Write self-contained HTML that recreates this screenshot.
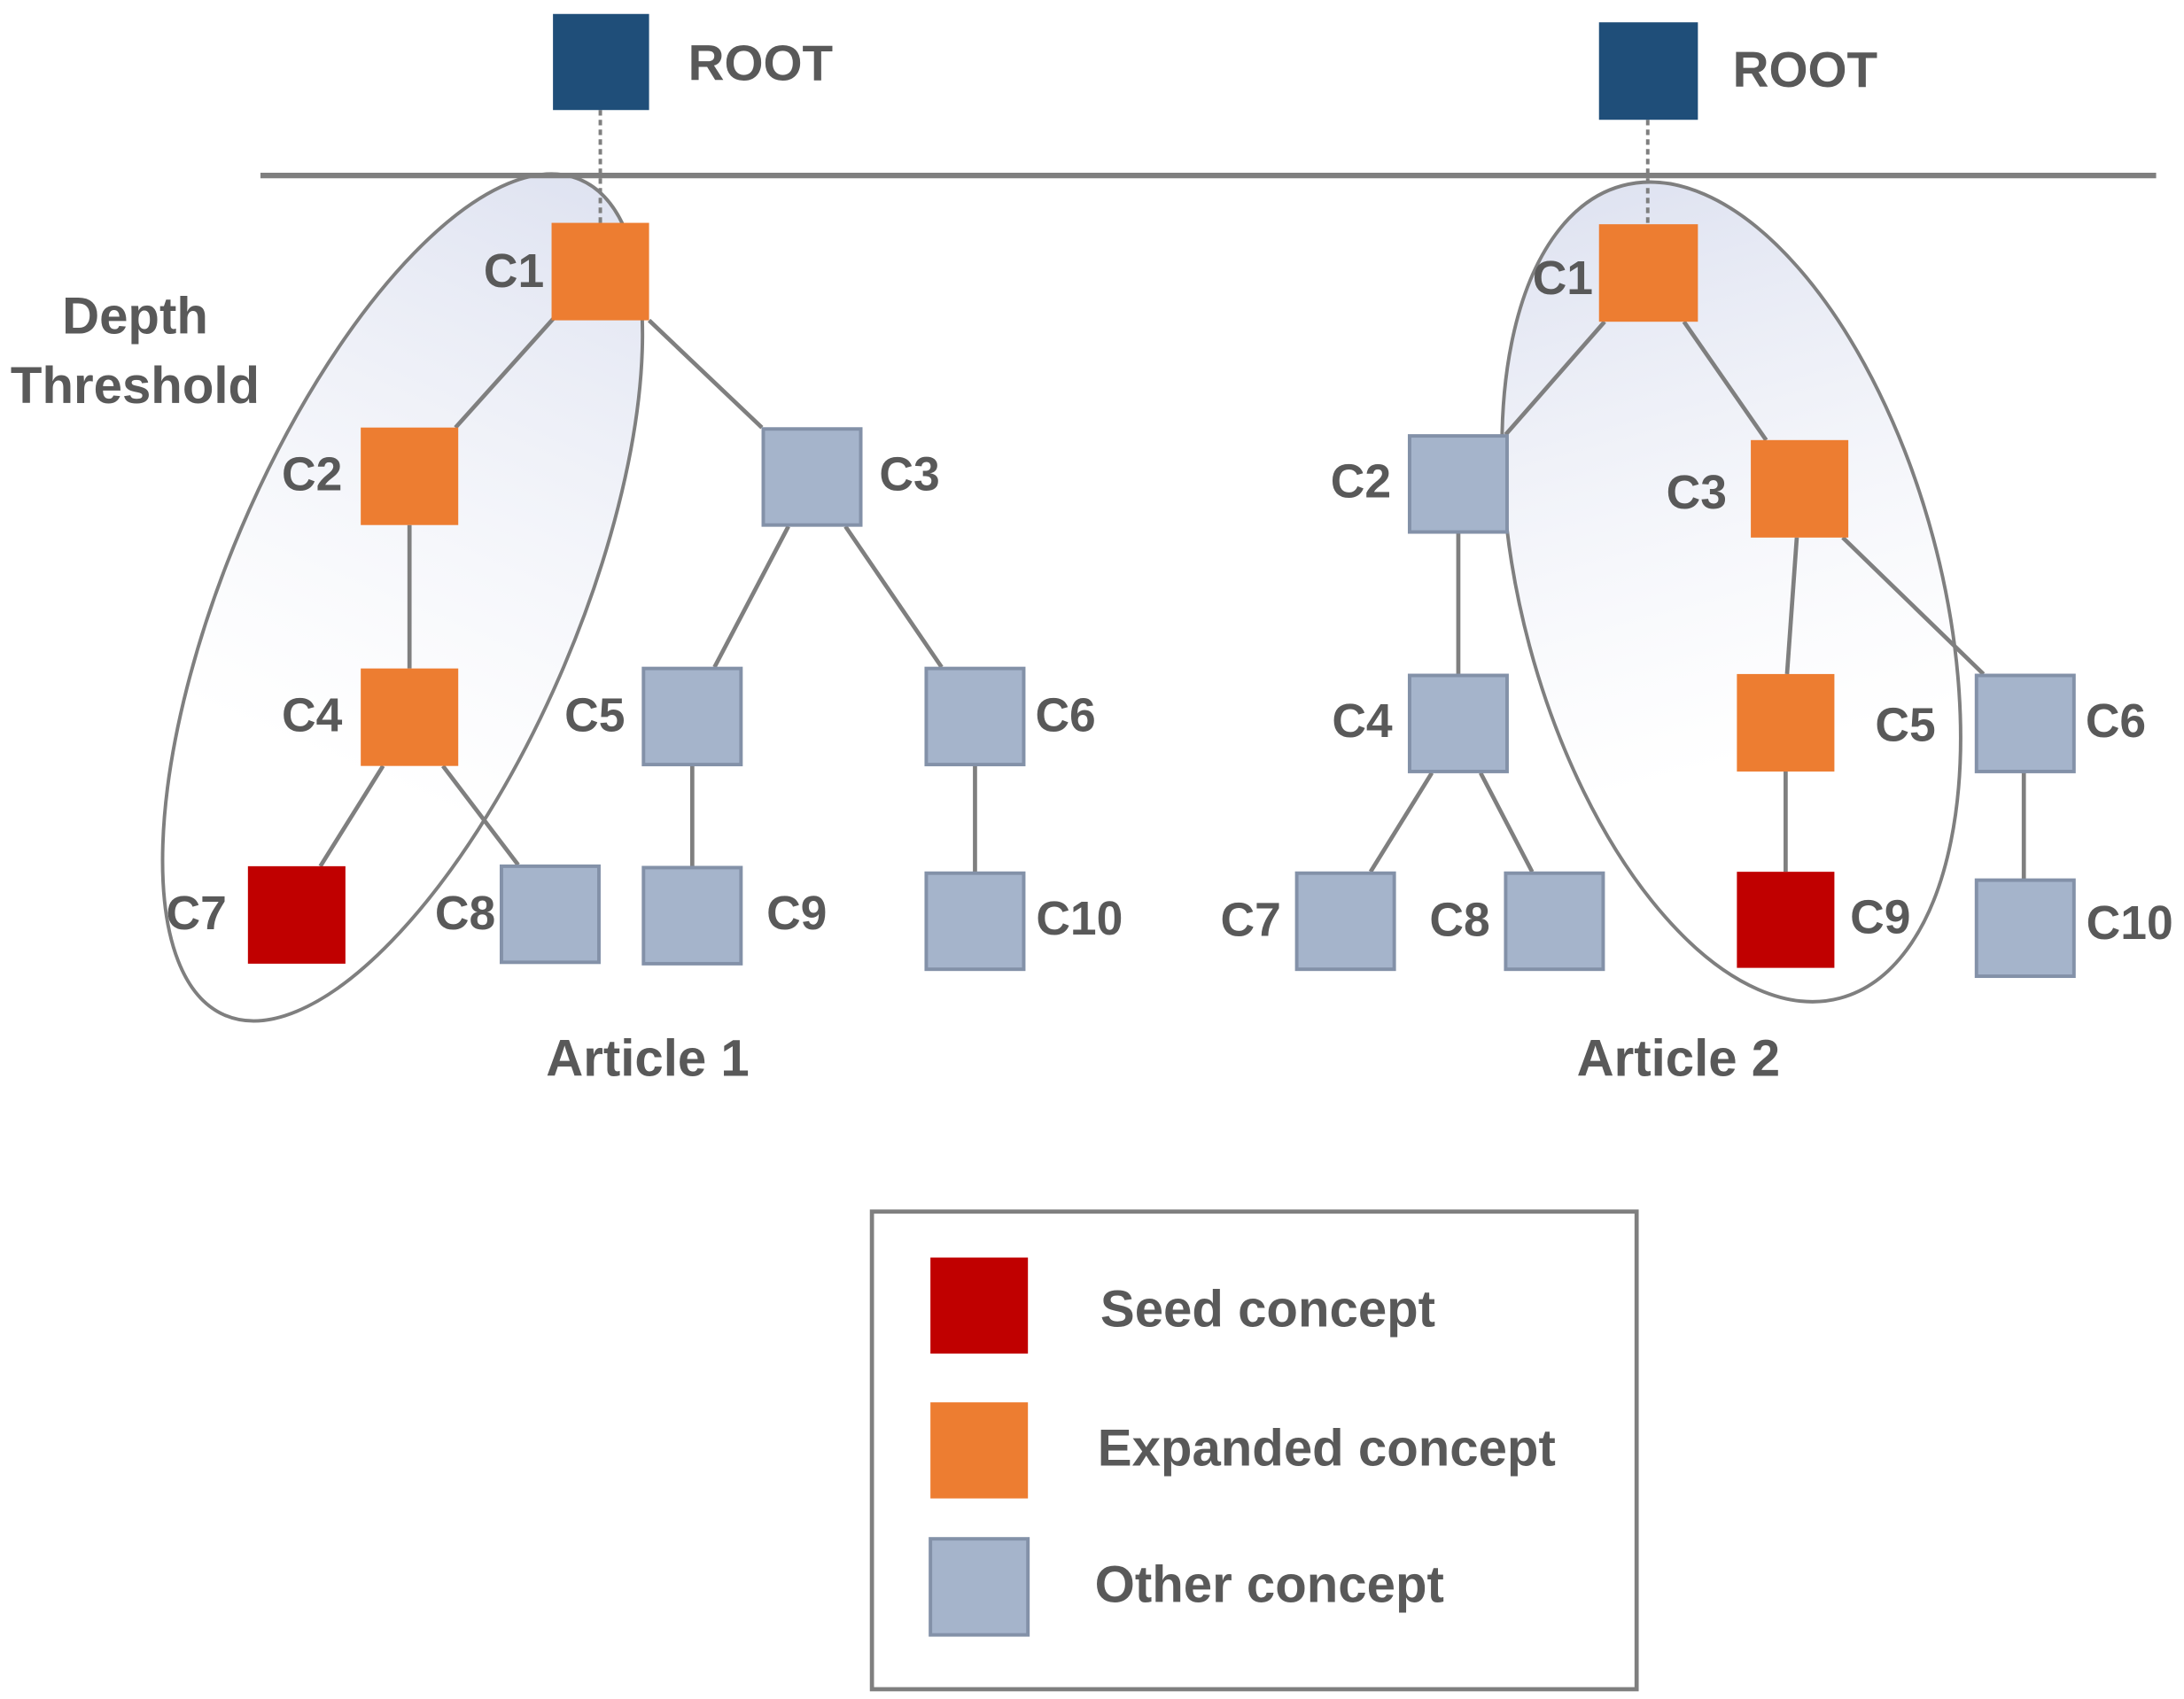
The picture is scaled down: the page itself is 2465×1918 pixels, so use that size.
<!DOCTYPE html>
<html><head><meta charset="utf-8"><style>
html,body{margin:0;padding:0;background:#fff;}
svg{display:block;}
text{font-family:"Liberation Sans",sans-serif;font-weight:bold;fill:#595959;}
</style></head><body>
<svg width="2465" height="1918" viewBox="0 0 1568 1220" xmlns="http://www.w3.org/2000/svg">
<defs>
<linearGradient id="g" x1="0" y1="0" x2="0" y2="1">
<stop offset="0" stop-color="#dfe3f1"/><stop offset="0.7" stop-color="#ffffff" stop-opacity="0.6"/><stop offset="1" stop-color="#ffffff" stop-opacity="0"/>
</linearGradient>
</defs>
<ellipse cx="289" cy="429" rx="126" ry="326" transform="rotate(23 289 429)" fill="url(#g)" stroke="#7f7f7f" stroke-width="2.5"/>
<ellipse cx="1243" cy="425" rx="150" ry="302" transform="rotate(-15 1243 425)" fill="url(#g)" stroke="#7f7f7f" stroke-width="2.5"/>
<line x1="187" y1="126" x2="1548" y2="126" stroke="#7f7f7f" stroke-width="4"/>
<line x1="431" y1="79" x2="431" y2="160" stroke="#7f7f7f" stroke-width="2.5" stroke-dasharray="4,3"/>
<line x1="1183" y1="86" x2="1183" y2="161" stroke="#7f7f7f" stroke-width="2.5" stroke-dasharray="4,3"/>
<g stroke="#7f7f7f" stroke-width="3">
<line x1="398" y1="228" x2="327" y2="307"/><line x1="466" y1="230" x2="547" y2="307"/>
<line x1="294" y1="377" x2="294" y2="480"/><line x1="566" y1="378" x2="513" y2="479"/>
<line x1="607" y1="378" x2="676" y2="479"/><line x1="275" y1="550" x2="230" y2="622"/>
<line x1="318" y1="550" x2="372" y2="621"/><line x1="497" y1="550" x2="497" y2="622"/>
<line x1="700" y1="550" x2="700" y2="626"/>
<line x1="1152" y1="231" x2="1081" y2="312"/><line x1="1209" y1="231" x2="1268" y2="316"/>
<line x1="1047" y1="383" x2="1047" y2="484"/><line x1="1290" y1="386" x2="1283" y2="484"/>
<line x1="1323" y1="386" x2="1424" y2="484"/><line x1="1028" y1="555" x2="984" y2="626"/>
<line x1="1063" y1="555" x2="1100" y2="626"/><line x1="1282" y1="554" x2="1282" y2="626"/>
<line x1="1453" y1="555" x2="1453" y2="631"/>
</g>
<rect x="397" y="10" width="69" height="69" fill="#1f4e79"/>
<rect x="1148" y="16" width="71" height="70" fill="#1f4e79"/>
<g fill="#ed7d31">
<rect x="396" y="160" width="70" height="70"/><rect x="259" y="307" width="70" height="70"/>
<rect x="259" y="480" width="70" height="70"/><rect x="1148" y="161" width="71" height="70"/>
<rect x="1257" y="316" width="70" height="70"/><rect x="1247" y="484" width="70" height="70"/>
</g>
<g fill="#c00000">
<rect x="178" y="622" width="70" height="70"/><rect x="1247" y="626" width="70" height="69"/>
</g>
<g fill="#a5b4cb" stroke="#8391a8" stroke-width="2.5">
<rect x="548" y="308" width="70" height="69"/><rect x="462" y="480" width="70" height="69"/>
<rect x="665" y="480" width="70" height="69"/><rect x="360" y="622" width="70" height="69"/>
<rect x="462" y="623" width="70" height="69"/><rect x="665" y="627" width="70" height="69"/>
<rect x="1012" y="313" width="70" height="69"/><rect x="1012" y="485" width="70" height="69"/>
<rect x="1419" y="485" width="70" height="69"/><rect x="931" y="627" width="70" height="69"/>
<rect x="1081" y="627" width="70" height="69"/><rect x="1419" y="632" width="70" height="69"/>
</g>
<g font-size="34" text-anchor="middle" dominant-baseline="central">
<text x="546" y="45" font-size="36">ROOT</text><text x="1296" y="50" font-size="36">ROOT</text>
<text x="369" y="195">C1</text><text x="224" y="341">C2</text><text x="653" y="341">C3</text>
<text x="224" y="514">C4</text><text x="427" y="514">C5</text><text x="765" y="514">C6</text>
<text x="141" y="656">C7</text><text x="334" y="656">C8</text><text x="572" y="656">C9</text>
<text x="775" y="660">C10</text>
<text x="1122" y="200">C1</text><text x="977" y="346">C2</text><text x="1218" y="354">C3</text>
<text x="978" y="518">C4</text><text x="1368" y="521">C5</text><text x="1519" y="518">C6</text>
<text x="898" y="661">C7</text><text x="1048" y="661">C8</text><text x="1350" y="659">C9</text>
<text x="1529" y="663">C10</text>
<text x="97" y="227" font-size="37">Depth</text><text x="97" y="277" font-size="37">Threshold</text>
<text x="465" y="760" font-size="37">Article 1</text><text x="1205" y="760" font-size="37">Article 2</text>
</g>
<rect x="626" y="870" width="549" height="343" fill="none" stroke="#7f7f7f" stroke-width="3"/>
<rect x="668" y="903" width="70" height="69" fill="#c00000"/>
<rect x="668" y="1007" width="70" height="69" fill="#ed7d31"/>
<rect x="668" y="1105" width="70" height="69" fill="#a5b4cb" stroke="#8391a8" stroke-width="2.5"/>
<g font-size="37" dominant-baseline="central">
<text x="790" y="940">Seed concept</text>
<text x="788" y="1040">Expanded concept</text>
<text x="786" y="1138">Other concept</text>
</g>
</svg>
</body></html>
